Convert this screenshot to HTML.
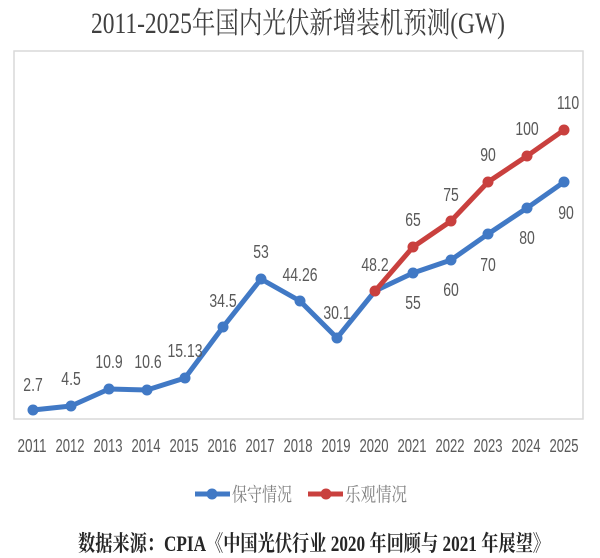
<!DOCTYPE html>
<html><head><meta charset="utf-8"><style>
html,body{margin:0;padding:0;background:#fff;}
svg{display:block;}
</style></head><body>
<svg width="600" height="558" viewBox="0 0 600 558" xmlns="http://www.w3.org/2000/svg">
<rect width="600" height="558" fill="#fff"/>
<!-- title -->
<g transform="translate(298,33) scale(1,1.3)">
<text x="0" y="0" text-anchor="middle" font-family="Liberation Serif, Noto Serif CJK SC, serif" font-size="22.7" fill="#404040" textLength="414" lengthAdjust="spacingAndGlyphs">2011-2025年国内光伏新增装机预测(GW)</text>
</g>
<!-- plot box -->
<rect x="14" y="51" width="569" height="368" fill="#fff" stroke="#d9d9d9" stroke-width="1.5"/>
<!-- blue series -->
<polyline fill="none" stroke="#4179c5" stroke-width="5" stroke-linejoin="round" points="33,410 71,406 109,389 147,390 185,378 223,327 261,279 300,301 337,338 375,291 413,273 451,260 488,234 527,208 564,182"/>
<g fill="#4179c5">
<circle cx="33" cy="410" r="5.5"/><circle cx="71" cy="406" r="5.5"/><circle cx="109" cy="389" r="5.5"/><circle cx="147" cy="390" r="5.5"/><circle cx="185" cy="378" r="5.5"/><circle cx="223" cy="327" r="5.5"/><circle cx="261" cy="279" r="5.5"/><circle cx="300" cy="301" r="5.5"/><circle cx="337" cy="338" r="5.5"/><circle cx="413" cy="273" r="5.5"/><circle cx="451" cy="260" r="5.5"/><circle cx="488" cy="234" r="5.5"/><circle cx="527" cy="208" r="5.5"/><circle cx="564" cy="182" r="5.5"/>
</g>
<!-- red series -->
<polyline fill="none" stroke="#c9403e" stroke-width="5" stroke-linejoin="round" points="375,291 413,247 451,221 488,182 527,156 564,130"/>
<g fill="#c9403e">
<circle cx="375" cy="291" r="5.5"/><circle cx="413" cy="247" r="5.5"/><circle cx="451" cy="221" r="5.5"/><circle cx="488" cy="182" r="5.5"/><circle cx="527" cy="156" r="5.5"/><circle cx="564" cy="130" r="5.5"/>
</g>
<!-- value labels -->
<g font-family="Liberation Sans, sans-serif" font-size="14" fill="#595959" text-anchor="middle">
<g transform="translate(33,391) scale(1,1.3)"><text>2.7</text></g>
<g transform="translate(71,385) scale(1,1.3)"><text>4.5</text></g>
<g transform="translate(109,368) scale(1,1.3)"><text>10.9</text></g>
<g transform="translate(148,368) scale(1,1.3)"><text>10.6</text></g>
<g transform="translate(185,357) scale(1,1.3)"><text>15.13</text></g>
<g transform="translate(223,307) scale(1,1.3)"><text>34.5</text></g>
<g transform="translate(261,258) scale(1,1.3)"><text>53</text></g>
<g transform="translate(300,281) scale(1,1.3)"><text>44.26</text></g>
<g transform="translate(337,319) scale(1,1.3)"><text>30.1</text></g>
<g transform="translate(375,271) scale(1,1.3)"><text>48.2</text></g>
<g transform="translate(413,309) scale(1,1.3)"><text>55</text></g>
<g transform="translate(451,296) scale(1,1.3)"><text>60</text></g>
<g transform="translate(488,271) scale(1,1.3)"><text>70</text></g>
<g transform="translate(527,244) scale(1,1.3)"><text>80</text></g>
<g transform="translate(566,219) scale(1,1.3)"><text>90</text></g>
<g transform="translate(413,226) scale(1,1.3)"><text>65</text></g>
<g transform="translate(451,201) scale(1,1.3)"><text>75</text></g>
<g transform="translate(488,161) scale(1,1.3)"><text>90</text></g>
<g transform="translate(527,135) scale(1,1.3)"><text>100</text></g>
<g transform="translate(568,109) scale(1,1.3)"><text>110</text></g>
</g>
<!-- year labels -->
<g font-family="Liberation Sans, sans-serif" font-size="13.5" fill="#595959" text-anchor="middle">
<g transform="translate(32,452) scale(1,1.4)"><text textLength="29" lengthAdjust="spacingAndGlyphs">2011</text></g>
<g transform="translate(70,452) scale(1,1.4)"><text textLength="29" lengthAdjust="spacingAndGlyphs">2012</text></g>
<g transform="translate(108,452) scale(1,1.4)"><text textLength="29" lengthAdjust="spacingAndGlyphs">2013</text></g>
<g transform="translate(146,452) scale(1,1.4)"><text textLength="29" lengthAdjust="spacingAndGlyphs">2014</text></g>
<g transform="translate(184,452) scale(1,1.4)"><text textLength="29" lengthAdjust="spacingAndGlyphs">2015</text></g>
<g transform="translate(222,452) scale(1,1.4)"><text textLength="29" lengthAdjust="spacingAndGlyphs">2016</text></g>
<g transform="translate(260,452) scale(1,1.4)"><text textLength="29" lengthAdjust="spacingAndGlyphs">2017</text></g>
<g transform="translate(298,452) scale(1,1.4)"><text textLength="29" lengthAdjust="spacingAndGlyphs">2018</text></g>
<g transform="translate(336,452) scale(1,1.4)"><text textLength="29" lengthAdjust="spacingAndGlyphs">2019</text></g>
<g transform="translate(374,452) scale(1,1.4)"><text textLength="29" lengthAdjust="spacingAndGlyphs">2020</text></g>
<g transform="translate(412,452) scale(1,1.4)"><text textLength="29" lengthAdjust="spacingAndGlyphs">2021</text></g>
<g transform="translate(450,452) scale(1,1.4)"><text textLength="29" lengthAdjust="spacingAndGlyphs">2022</text></g>
<g transform="translate(488,452) scale(1,1.4)"><text textLength="29" lengthAdjust="spacingAndGlyphs">2023</text></g>
<g transform="translate(526,452) scale(1,1.4)"><text textLength="29" lengthAdjust="spacingAndGlyphs">2024</text></g>
<g transform="translate(564,452) scale(1,1.4)"><text textLength="29" lengthAdjust="spacingAndGlyphs">2025</text></g>
</g>
<!-- legend -->
<line x1="195" y1="494" x2="230" y2="494" stroke="#4179c5" stroke-width="5"/>
<circle cx="212" cy="494" r="5.5" fill="#4179c5"/>
<g transform="translate(232,501) scale(1,1.3)"><text font-family="Liberation Serif, Noto Serif CJK SC, serif" font-size="15" fill="#808080" textLength="60" lengthAdjust="spacingAndGlyphs">保守情况</text></g>
<line x1="308" y1="494" x2="343" y2="494" stroke="#c9403e" stroke-width="5"/>
<circle cx="326" cy="494" r="5.5" fill="#c9403e"/>
<g transform="translate(345,501) scale(1,1.3)"><text font-family="Liberation Serif, Noto Serif CJK SC, serif" font-size="15" fill="#808080" textLength="62" lengthAdjust="spacingAndGlyphs">乐观情况</text></g>
<!-- source -->
<g transform="translate(78,551) scale(1,1.3)"><text font-family="Liberation Serif, Noto Serif CJK SC, serif" font-size="17" font-weight="bold" fill="#262626" textLength="472" lengthAdjust="spacingAndGlyphs">数据来源：CPIA《中国光伏行业 2020 年回顾与 2021 年展望》</text></g>
</svg>
</body></html>
